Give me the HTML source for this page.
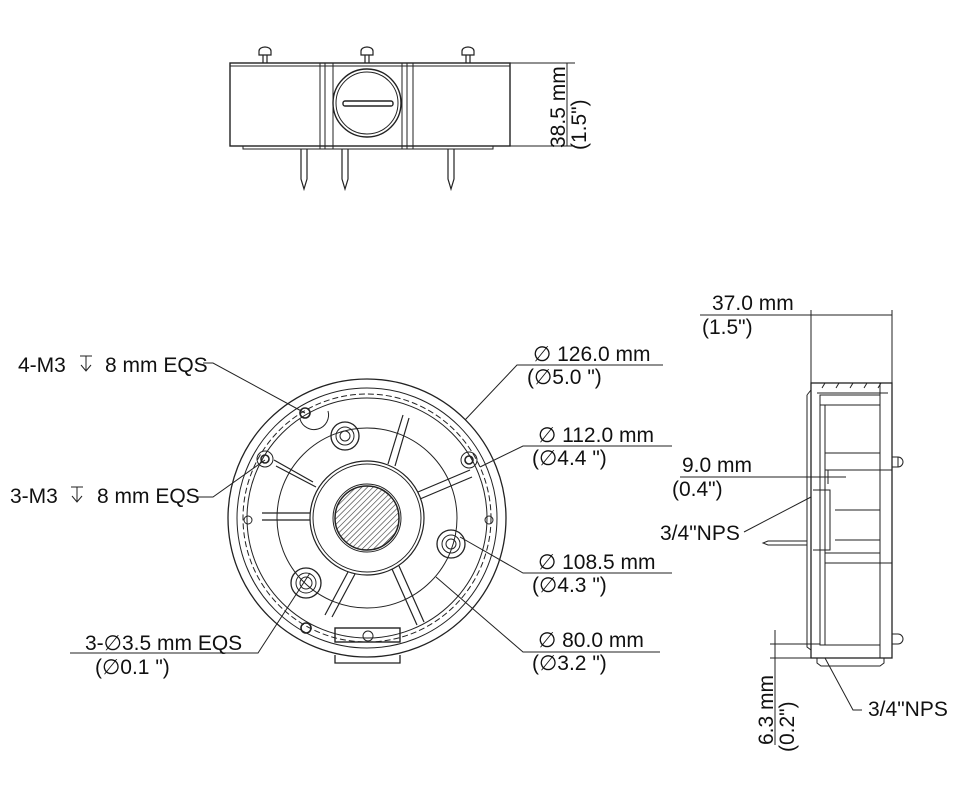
<!DOCTYPE html>
<html><head><meta charset="utf-8"><style>
html,body{margin:0;padding:0;background:#fff;width:960px;height:800px;overflow:hidden}
svg{display:block}
text{font-family:"Liberation Sans","DejaVu Sans",sans-serif;fill:#111}
</style></head><body>
<svg width="960" height="800" viewBox="0 0 960 800" xmlns="http://www.w3.org/2000/svg">
<defs>
<pattern id="h" width="4" height="4" patternUnits="userSpaceOnUse" patternTransform="rotate(45)">
<line x1="0" y1="0" x2="0" y2="4" stroke="#333" stroke-width="1.2"/></pattern>
</defs>
<g fill="none" stroke="#222" stroke-width="1">
<!-- TOP VIEW -->
<rect x="230" y="63" width="280" height="83" stroke-width="1.4"/>
<line x1="230" y1="66" x2="510" y2="66"/>
<rect x="243" y="146" width="250" height="3"/>
<line x1="320" y1="63" x2="320" y2="149"/><line x1="325" y1="63" x2="325" y2="149"/><line x1="333" y1="63" x2="333" y2="149"/>
<line x1="402" y1="63" x2="402" y2="149"/><line x1="407" y1="63" x2="407" y2="149"/><line x1="413" y1="63" x2="413" y2="149"/>
<circle cx="367" cy="103" r="34" stroke-width="1.4"/><circle cx="367" cy="103" r="31"/>
<rect x="343" y="101" width="50" height="5" rx="2" stroke-width="1.4"/>
<g stroke-width="1.2">
<path d="M259 55 v-4 a6 4 0 0 1 12 0 v4 z M263 55 v8 M267 55 v8"/>
<path d="M361 55 v-4 a6 4 0 0 1 12 0 v4 z M365 55 v8 M369 55 v8"/>
<path d="M462 55 v-4 a6 4 0 0 1 12 0 v4 z M466 55 v8 M470 55 v8"/>
<path d="M301 149 v30 l3 10 l3 -10 v-30"/>
<path d="M342 149 v30 l3 10 l3 -10 v-30"/>
<path d="M448 149 v30 l3 10 l3 -10 v-30"/>
</g>
<line x1="510" y1="63" x2="575" y2="63"/><line x1="495" y1="146" x2="575" y2="146"/>
<line x1="567" y1="63" x2="567" y2="146"/>

<!-- CIRCLE VIEW -->
<circle cx="367" cy="518" r="139" stroke-width="1.3"/>
<circle cx="367" cy="518" r="130"/>
<circle cx="367" cy="518" r="124" stroke-dasharray="6 3"/>
<circle cx="367" cy="518" r="120"/>
<circle cx="367" cy="518" r="90"/>
<circle cx="367" cy="518" r="57" stroke-width="1.2"/>
<circle cx="367" cy="518" r="54"/>
<circle cx="367" cy="518" r="32" stroke-width="1.5" fill="url(#h)"/>
<circle cx="367" cy="518" r="34"/>
<g stroke-width="1.2">
<path d="M313 482 L274 460"/><path d="M316 487 L276 466"/>
<path d="M310 513 L262 513"/><path d="M310 520 L262 520"/>
<path d="M388 464 L403 415"/><path d="M395 466 L409 418"/>
<path d="M418 492 L470 470"/><path d="M420 499 L472 477"/>
<path d="M348 572 L325 615"/><path d="M355 574 L332 617"/>
<path d="M392 569 L417 625"/><path d="M399 566 L424 622"/>
</g>
<circle cx="345" cy="436" r="14" stroke-width="1.3"/><circle cx="345" cy="436" r="9"/><circle cx="345" cy="436" r="5"/>
<circle cx="451" cy="544" r="14" stroke-width="1.3"/><circle cx="451" cy="544" r="9"/><circle cx="451" cy="544" r="5"/>
<circle cx="306" cy="583" r="15" stroke-width="1.3"/><circle cx="306" cy="583" r="10"/><circle cx="306" cy="583" r="6"/>
<circle cx="305" cy="413" r="5" stroke-width="1.6"/>
<circle cx="265" cy="459" r="8"/><circle cx="265" cy="459" r="4" stroke-width="1.6"/>
<circle cx="469" cy="460" r="8"/><circle cx="469" cy="460" r="4" stroke-width="1.6"/>
<circle cx="248" cy="520" r="4"/><circle cx="489" cy="520" r="4"/>
<circle cx="306" cy="628" r="5" stroke-width="1.6"/>
<path d="M328 411 a14 14 0 0 1 -28 8"/>
<rect x="335" y="628" width="65" height="14" stroke-width="1.4"/>
<circle cx="368" cy="636" r="5"/>
<path d="M335 655 v8 h65 v-8" stroke-width="1.3"/>

<!-- leaders circle view -->
<path d="M203 363 H213 L305 413"/>
<path d="M197 497 H213 L265 460"/>
<path d="M70 653 H258 L310 573"/>
<path d="M663 365 H517 L465 420"/>
<path d="M672 446 H523 L480 467"/>
<path d="M672 573 H523 L460 537"/>
<path d="M660 652 H523 L436 577"/>

<!-- depth symbols -->
<path d="M80 356 h12 M86 356 v15 M81 365 l5 6 l5 -6"/>
<path d="M71 487 h12 M77 487 v15 M72 496 l5 6 l5 -6"/>

<!-- SIDE VIEW -->
<rect x="811" y="383" width="81" height="275" stroke-width="1.3"/>
<path d="M807 395 V647 L811 650"/><line x1="807" y1="395" x2="811" y2="390"/>
<rect x="820" y="395" width="60" height="250"/>
<line x1="817" y1="393" x2="888" y2="393"/>
<path d="M822 388 l3 -5 M836 388 l3 -5 M850 388 l3 -5 M864 388 l3 -5 M878 388 l3 -5"/>
<line x1="820" y1="405" x2="880" y2="405"/>
<line x1="825" y1="405" x2="825" y2="645"/>
<line x1="825" y1="453" x2="880" y2="453"/><line x1="825" y1="470" x2="892" y2="470"/>
<line x1="835" y1="510" x2="880" y2="510"/><line x1="835" y1="540" x2="880" y2="540"/>
<line x1="825" y1="553" x2="880" y2="553"/><line x1="825" y1="563" x2="892" y2="563"/>
<path d="M813 490 h17 v60 h-17"/>
<line x1="880" y1="383" x2="880" y2="658"/>
<path d="M892 457 h6 a5 5 0 0 1 0 10 h-6"/><line x1="898" y1="457" x2="898" y2="467"/>
<path d="M892 634 h6 a5 5 0 0 1 0 10 h-6"/>
<path d="M817 658 v5 l4 3 h59 l4 -3 v-5"/>
<path d="M807 541 H768 l-5 2 5 2 H807"/>
<!-- dims side -->
<line x1="811" y1="310" x2="811" y2="383"/><line x1="892" y1="310" x2="892" y2="383"/>
<line x1="700" y1="315" x2="892" y2="315"/>
<line x1="680" y1="477" x2="846" y2="477"/>
<line x1="828" y1="470" x2="828" y2="484"/>
<path d="M744 532 L811 497"/>
<path d="M862 710 H853 L825 658"/>
<line x1="775" y1="630" x2="775" y2="745"/>
<line x1="770" y1="644" x2="820" y2="644"/><line x1="770" y1="658" x2="820" y2="658"/>
</g>
<g font-size="21">
<text x="18" y="372">4-M3</text>
<text x="105" y="372">8 mm EQS</text>
<text x="10" y="503">3-M3</text>
<text x="97" y="503">8 mm EQS</text>
<text x="85" y="650">3-&#x2205;3.5 mm EQS</text>
<text x="95" y="674">(&#x2205;0.1 ")</text>
<text x="533" y="361">&#x2205; 126.0 mm</text>
<text x="527" y="384">(&#x2205;5.0  ")</text>
<text x="538" y="442">&#x2205; 112.0 mm</text>
<text x="532" y="465">(&#x2205;4.4 ")</text>
<text x="538" y="569">&#x2205; 108.5 mm</text>
<text x="532" y="592">(&#x2205;4.3 ")</text>
<text x="538" y="647">&#x2205; 80.0 mm</text>
<text x="532" y="670">(&#x2205;3.2 ")</text>
<text x="712" y="310">37.0 mm</text>
<text x="702" y="334">(1.5")</text>
<text x="682" y="472">9.0 mm</text>
<text x="672" y="496">(0.4")</text>
<text x="660" y="540">3/4"NPS</text>
<text x="868" y="716">3/4"NPS</text>
<text transform="translate(565,148) rotate(-90)">38.5 mm</text>
<text transform="translate(586,150) rotate(-90)">(1.5")</text>
<text transform="translate(773,745) rotate(-90)">6.3 mm</text>
<text transform="translate(794,752) rotate(-90)">(0.2")</text>
</g>
</svg>
</body></html>
